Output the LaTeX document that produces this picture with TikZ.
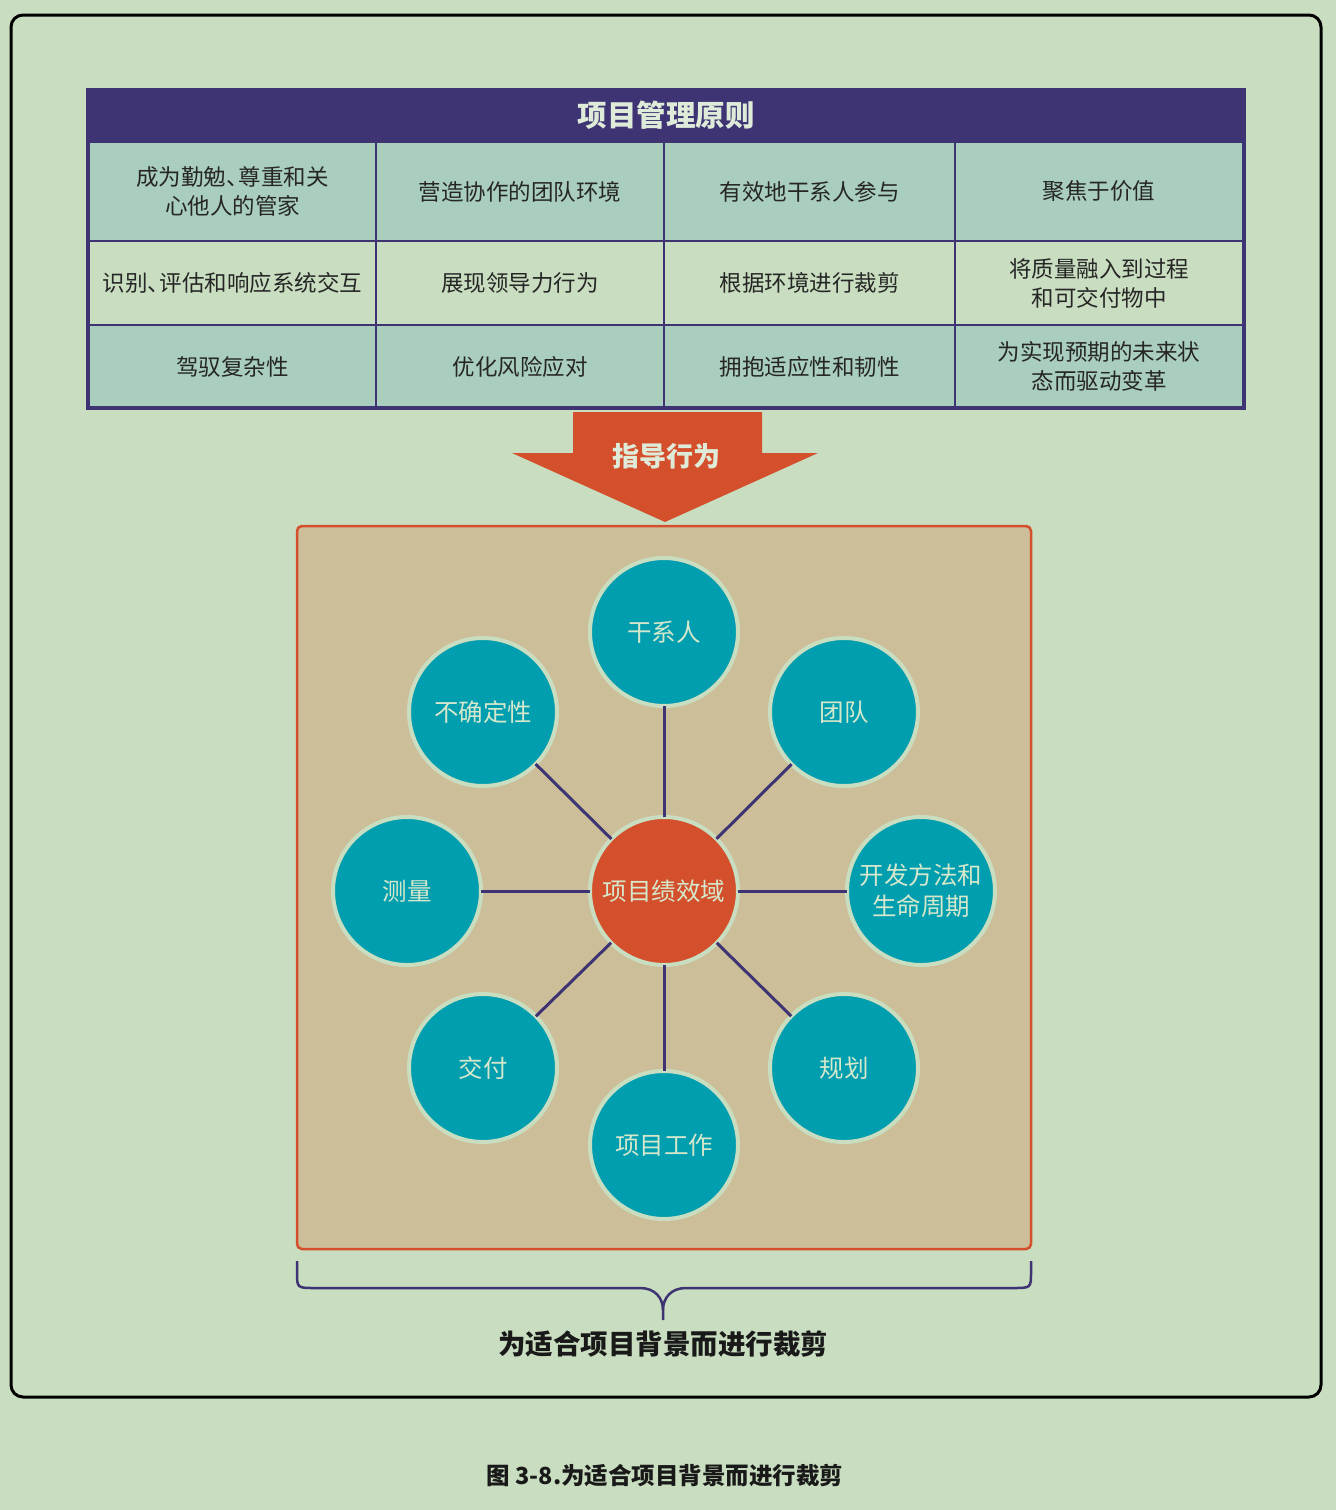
\documentclass[tikz,border=0pt]{standalone}
\usepackage{fontspec}
\setmainfont{Noto Sans CJK SC}
\usetikzlibrary{positioning}

\definecolor{bggreen}{HTML}{C9DEC0}
\definecolor{rowteal}{HTML}{A9CEBD}
\definecolor{deeppurple}{HTML}{3E3474}
\definecolor{brickred}{HTML}{D4502C}
\definecolor{sand}{HTML}{CCBE99}
\definecolor{domainteal}{HTML}{009EAF}
\definecolor{paletext}{HTML}{D6E8CC}

% narrow enumeration comma as in the source table
\newcommand{\dun}{、\kern-0.45em}

\begin{document}
\begin{tikzpicture}[x=1pt, y=-1pt,
                    every node/.style={inner sep=0pt, outer sep=0pt},
                    principle cell/.style={draw=deeppurple, line width=1.5pt, align=center,
                        font=\fontsize{22.5}{29}\selectfont, text=black!85},
                    domain circle/.style={circle, draw=bggreen, line width=4pt, fill=domainteal,
                        minimum size=148pt, align=center, text=paletext,
                        font=\fontsize{24.5}{31}\selectfont},
                    link/.style={deeppurple, line width=3pt}
                   ]

    % canvas and outer frame
    \fill[bggreen] (0,0) rectangle (1336,1510);
    \useasboundingbox (0,0) rectangle (1336,1510);
    \draw[black, line width=3pt, rounded corners=12pt] (11,15) rectangle (1321,1397);

    % Table header
    \node[fill=deeppurple, minimum width=1160pt, minimum height=54pt, text=bggreen!60!white,
          font=\fontsize{29.5}{32}\selectfont\bfseries] (H) at (666,115) {项目管理原则};

    % First row of cells
    \node[principle cell, fill=rowteal, minimum width=287pt, minimum height=99pt] (A1) at (232.5,191.5) {成为勤勉\dun 尊重和关\\心他人的管家};
    \node[principle cell, fill=rowteal, minimum width=288pt, minimum height=99pt] (A2) at (520,191.5) {营造协作的团队环境};
    \node[principle cell, fill=rowteal, minimum width=291pt, minimum height=99pt] (A3) at (809.5,191.5) {有效地干系人参与};
    \node[principle cell, fill=rowteal, minimum width=288pt, minimum height=99pt] (A4) at (1099,191.5) {聚焦于价值};

    % Second row of cells
    \node[principle cell, fill=bggreen, minimum width=287pt, minimum height=84pt] (B1) at (232.5,283) {识别\dun 评估和响应系统交互};
    \node[principle cell, fill=bggreen, minimum width=288pt, minimum height=84pt] (B2) at (520,283) {展现领导力行为};
    \node[principle cell, fill=bggreen, minimum width=291pt, minimum height=84pt] (B3) at (809.5,283) {根据环境进行裁剪};
    \node[principle cell, fill=bggreen, minimum width=288pt, minimum height=84pt] (B4) at (1099,283) {将质量融入到过程\\和可交付物中};

    % Third row of cells
    \node[principle cell, fill=rowteal, minimum width=287pt, minimum height=83pt] (C1) at (232.5,366.5) {驾驭复杂性};
    \node[principle cell, fill=rowteal, minimum width=288pt, minimum height=83pt] (C2) at (520,366.5) {优化风险应对};
    \node[principle cell, fill=rowteal, minimum width=291pt, minimum height=83pt] (C3) at (809.5,366.5) {拥抱适应性和韧性};
    \node[principle cell, fill=rowteal, minimum width=288pt, minimum height=83pt] (C4) at (1099,366.5) {为实现预期的未来状\\态而驱动变革};

    \draw[deeppurple, line width=4pt] (88,90) rectangle (1244,408);

    % big arrow
    \fill[brickred] (573,412) -- (762,412) -- (762,453) -- (818,453) -- (665,522)
        -- (512,453) -- (573,453) -- cycle;
    \node[text=bggreen!60!white, font=\fontsize{27}{30}\selectfont\bfseries] (guide) at (666,456) {指导行为};

    % tailoring box
    \draw[brickred, fill=sand, line width=2.5pt, rounded corners=5pt] (297,526) rectangle (1031,1249);

    % Domains
    \node[domain circle, fill=brickred] (core) at (664,891) {项目绩效域};
    \node[domain circle] (D1) at (664,632) {干系人};
    \node[domain circle] (D2) at (844,712) {团队};
    \node[domain circle] (D3) at (921,891) {开发方法和\\生命周期};
    \node[domain circle] (D4) at (844,1068) {规划};
    \node[domain circle] (D5) at (664,1145) {项目工作};
    \node[domain circle] (D6) at (483,1068) {交付};
    \node[domain circle] (D7) at (407,891) {测量};
    \node[domain circle] (D8) at (483,712) {不确定性};

    % Edges from the core
    \foreach \i in {1,...,8} {
        \draw[link] (core) -- (D\i);
    }

    % brace under the box
    \coordinate (BL) at (297,1261);
    \coordinate (BR) at (1031,1261);
    \coordinate (tip) at (663,1320);
    \draw[deeppurple, line width=2.5pt] (BL) -- (297,1272) .. controls (297,1288) .. (315,1288)
        -- (640,1288) .. controls (655,1288) and (663,1298) .. (663,1310) -- (tip);
    \draw[deeppurple, line width=2.5pt] (BR) -- (1031,1272) .. controls (1031,1288) .. (1013,1288)
        -- (686,1288) .. controls (671,1288) and (663,1298) .. (663,1310);
    \node[font=\fontsize{27.5}{30}\selectfont\bfseries, text=black!90, below=11pt of tip] (tailor) {为适合项目背景而进行裁剪};

    % caption
    \node[font=\fontsize{23.5}{28}\selectfont\bfseries, text=black!90] (caption) at (665,1476) {图 3-8.为适合项目背景而进行裁剪};

\end{tikzpicture}
\end{document}
